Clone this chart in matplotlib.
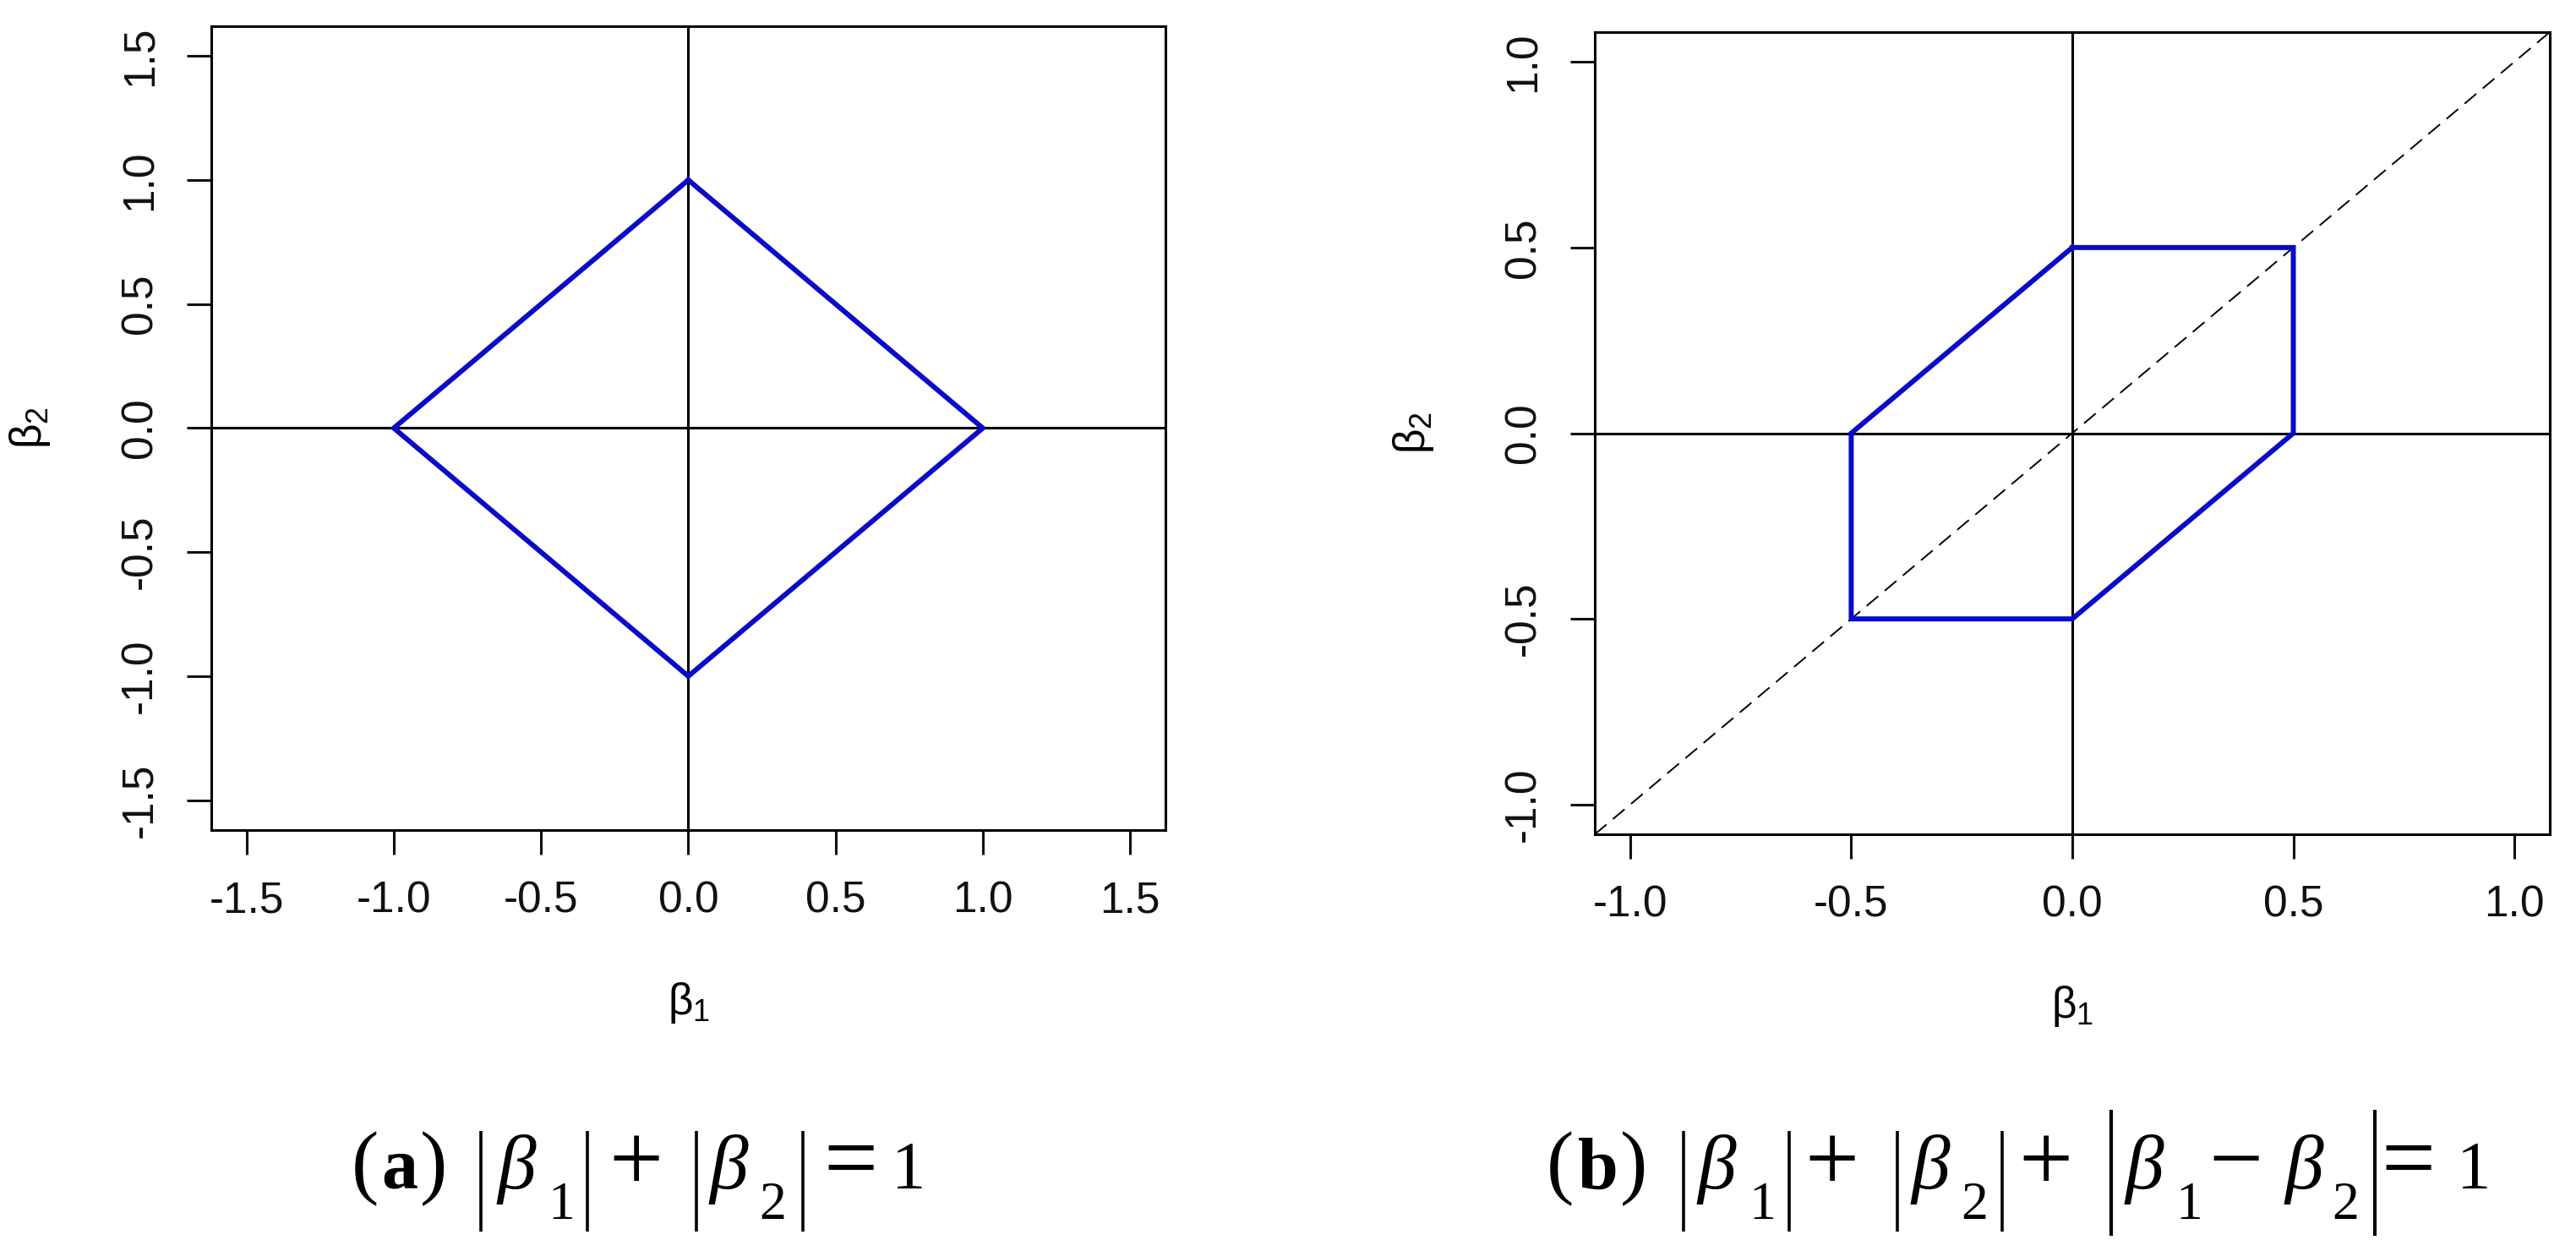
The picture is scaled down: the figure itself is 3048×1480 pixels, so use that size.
import numpy as np
import matplotlib
matplotlib.use("Agg")
import matplotlib.pyplot as plt
from matplotlib.lines import Line2D
from matplotlib.textpath import TextPath
from matplotlib.font_manager import FontProperties

plt.rcParams['font.family'] = ['Liberation Sans', 'DejaVu Sans']
plt.rcParams['mathtext.fontset'] = 'custom'
plt.rcParams['mathtext.rm'] = 'Liberation Sans'
plt.rcParams['mathtext.it'] = 'Liberation Sans'
plt.rcParams['mathtext.bf'] = 'Liberation Sans:bold'
plt.rcParams['axes.unicode_minus'] = False

# panel (a): |b1| + |b2| = 1
lasso_b1 = [0.0, 1.0, 0.0, -1.0, 0.0]
lasso_b2 = [1.0, 0.0, -1.0, 0.0, 1.0]
ticks_a = [-1.5, -1.0, -0.5, 0.0, 0.5, 1.0, 1.5]

# panel (b): |b1| + |b2| + |b1 - b2| = 1
hex_b1 = [0.0, 0.5, 0.5, 0.0, -0.5, -0.5, 0.0]
hex_b2 = [0.5, 0.5, 0.0, -0.5, -0.5, 0.0, 0.5]
ticks_b = [-1.0, -0.5, 0.0, 0.5, 1.0]

# captions, glyph by glyph: (text, kind, x of ink in pixels)
caption_a = [("(", "rm", 420), ("a", "bf", 454), (")", "rm", 500),
             ("|", "bar", 569), ("β", "it", 587), ("1", "sub", 654), ("|", "bar", 695),
             ("+", "op", 726),
             ("|", "bar", 824), ("β", "it", 838), ("2", "sub", 901), ("|", "bar", 950),
             ("=", "op", 980), ("1", "small", 1062)]
caption_b = [("(", "rm", 1834), ("b", "bf", 1868), (")", "rm", 1920),
             ("|", "bar", 1992), ("β", "it", 2007), ("1", "sub", 2075), ("|", "bar", 2117),
             ("+", "op", 2141),
             ("|", "bar", 2245), ("β", "it", 2260), ("2", "sub", 2323), ("|", "bar", 2369),
             ("+", "op", 2394),
             ("|", "big", 2498), ("β", "it", 2513), ("1", "sub", 2580), ("−", "op", 2619),
             ("β", "it", 2702), ("2", "sub", 2762), ("|", "big", 2810),
             ("=", "op", 2823), ("1", "small", 2914)]

BLUE = '#0A0AC8'
FS = 37
W, H, DPI = 3048, 1480, 100

fig = plt.figure(figsize=(W / DPI, H / DPI), dpi=DPI)
ax1 = fig.add_axes([0.0820, 0.3365, 0.3704, 0.6426])
ax2 = fig.add_axes([0.6191, 0.3331, 0.3707, 0.6412])


def style(ax, ticks, lim):
    ax.set_xlim(-lim, lim)
    ax.set_ylim(-lim, lim)
    ax.set_xticks(ticks)
    ax.set_yticks(ticks)
    ax.set_xticklabels(["%.1f" % t for t in ticks])
    ax.set_yticklabels(["%.1f" % t for t in ticks], rotation=90, va='center')
    ax.tick_params(length=21, width=2.2, labelsize=FS, pad=22, colors='#111111')
    for s in ax.spines.values():
        s.set_linewidth(2.2)
    ax.axhline(0, color='black', lw=2.2)
    ax.axvline(0, color='black', lw=2.2)
    ax.set_xlabel(r"$\beta_1$", fontsize=FS)
    ax.set_ylabel(r"$\beta_2$", fontsize=FS)
    ax.xaxis.set_label_coords(0.5, -0.187)
    ax.yaxis.set_label_coords(-0.1665, 0.5)


style(ax1, ticks_a, 1.62)
ax1.plot(lasso_b1, lasso_b2, color=BLUE, lw=4.3, solid_joinstyle='miter')

style(ax2, ticks_b, 1.08)
ax2.axline((0, 0), slope=1, color='black', lw=1.4, dashes=(9.3, 5.1))
ax2.plot(hex_b1, hex_b2, color=BLUE, lw=4.3, solid_joinstyle='miter')

# caption glyph styles: font, size (pt), baseline (px from top)
serif = "Liberation Serif"
kinds = {
    "rm": (FontProperties(family=serif), 70, 1406),
    "bf": (FontProperties(family=serif, weight="bold"), 62, 1406),
    "op": (FontProperties(family=serif), 82, 1408),
    "it": (FontProperties(family=serif, style="italic"), 66, 1406),
    "sub": (FontProperties(family=serif), 46, 1442),
    "small": (FontProperties(family=serif), 58, 1406),
}
# absolute value bars: (top, bottom, width in pt)
bars = {"bar": (1338, 1457, 2.6), "big": (1313, 1462, 3.0)}


def caption(pieces):
    for s, kind, x in pieces:
        if kind in bars:
            top, bot, lw = bars[kind]
            fig.add_artist(Line2D([x / W, x / W], [1 - top / H, 1 - bot / H],
                                  transform=fig.transFigure, color='black',
                                  lw=lw, solid_capstyle='butt'))
            continue
        fp, size, base = kinds[kind]
        ext = TextPath((0, 0), s, size=1, prop=fp).get_extents()
        em = size * DPI / 72
        x0 = x - ext.x0 * em
        fig.text(x0 / W, 1 - base / H, s, fontproperties=fp, fontsize=size,
                 ha='left', va='baseline', color='black')


caption(caption_a)
caption(caption_b)

fig.savefig("out.png", dpi=DPI)
